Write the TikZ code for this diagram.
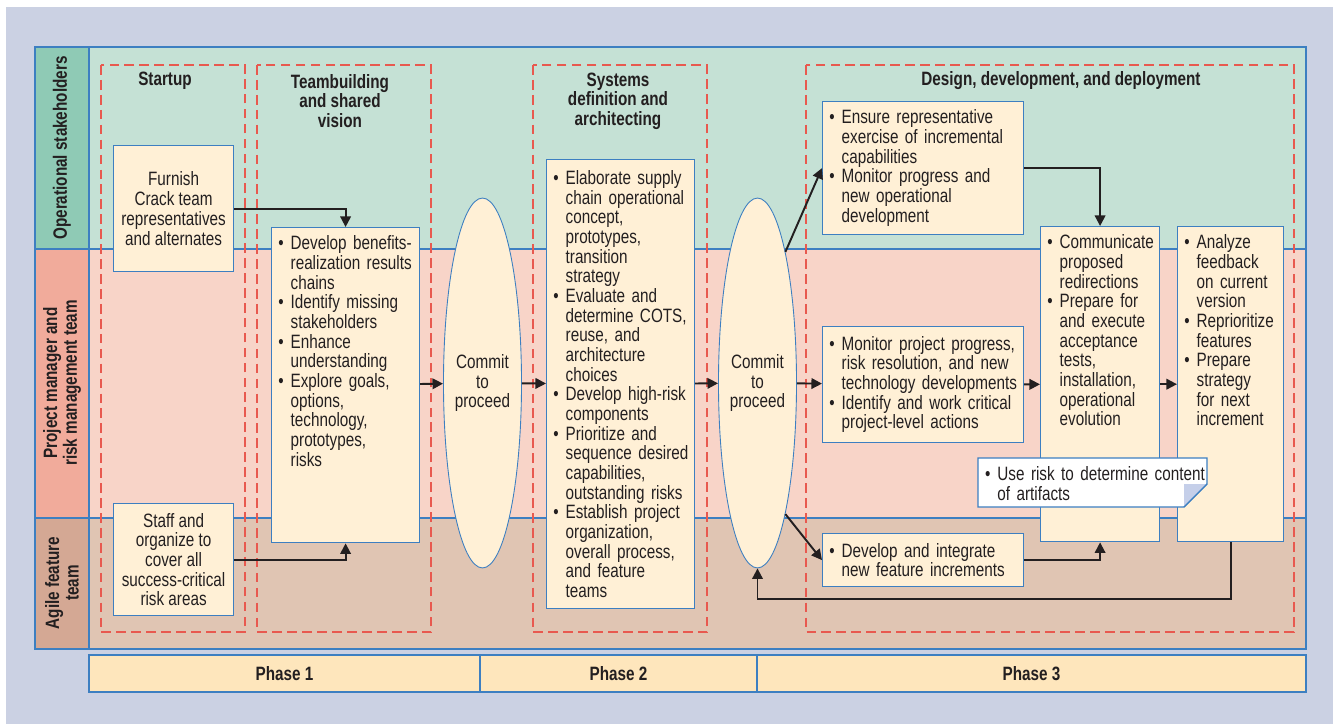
\documentclass[tikz,border=0pt]{standalone}
\usepackage{fontspec}
\setmainfont[FakeStretch=0.79]{Liberation Sans}
\usetikzlibrary{arrows.meta,shapes.geometric}

\definecolor{bgfill}{HTML}{CBD1E3}
\definecolor{bglight}{HTML}{EAECF4}
\definecolor{opslabel}{HTML}{8FCAB5}
\definecolor{opsfill}{HTML}{C5E1D5}
\definecolor{pmlabel}{HTML}{F1AB9B}
\definecolor{pmfill}{HTML}{F8D4C8}
\definecolor{aglabel}{HTML}{D4A894}
\definecolor{agfill}{HTML}{E0C5B3}
\definecolor{cream}{HTML}{FFF0D6}
\definecolor{phasefill}{HTML}{FEE6BC}
\definecolor{lineblue}{HTML}{3D7FC1}
\definecolor{dashred}{HTML}{E8594F}
\definecolor{foldblue}{HTML}{C5CFE9}
\definecolor{ink}{HTML}{231F20}

% bullet item, lines split by \\
\newcommand{\blt}[1]{{\let\\\newline\noindent\hangindent=8pt\hangafter=1
  \makebox[8pt][l]{\hspace{1pt}\textbullet}#1\par}}

\tikzset{
  txt/.style={text=ink, font=\fontsize{11}{11.2}\selectfont},
  title/.style={txt, font=\fontsize{11}{11.2}\selectfont\bfseries, align=center},
  lanelabel/.style={title, rotate=90},
  box/.style={txt, draw=lineblue, fill=cream, line width=0.7pt},
  listbox/.style={box, anchor=north west, align=left, inner xsep=2.85pt, inner ysep=4.7pt},
  gate/.style={box, ellipse, line width=0.5pt, align=center, inner sep=0pt,
    minimum width=1.5cm, minimum height=7.4cm},
  phasebox/.style={title, draw=lineblue, fill=phasefill, line width=0.7pt, minimum height=0.74cm},
  frame/.style={dashred, line width=0.9pt, dash pattern=on 5.5pt off 3pt},
  arr/.style={ink, line width=1.1pt, -{Triangle[length=6pt,width=6pt]}}
}

\begin{document}
\begin{tikzpicture}[x=0.02cm, y=-0.02cm]
    \useasboundingbox (0,0) rectangle (1333,724);

    % Background
    \fill[white] (0,0) rectangle (1333,724);
    \shade[left color=bgfill, middle color=bglight, right color=bgfill] (6,7) rectangle (1333,724);

    % Swim lanes
    \filldraw[fill=opslabel, draw=lineblue, line width=0.7pt] (35,47) rectangle (89,249);
    \filldraw[fill=opsfill, draw=lineblue, line width=0.7pt] (89,47) rectangle (1306,249);
    \filldraw[fill=pmlabel, draw=lineblue, line width=0.7pt] (35,249) rectangle (89,518);
    \filldraw[fill=pmfill, draw=lineblue, line width=0.7pt] (89,249) rectangle (1306,518);
    \filldraw[fill=aglabel, draw=lineblue, line width=0.7pt] (35,518) rectangle (89,649);
    \filldraw[fill=agfill, draw=lineblue, line width=0.7pt] (89,518) rectangle (1306,649);

    \node[lanelabel] (ops) at (62,148) {Operational stakeholders};
    \node[lanelabel] (pm) at (62,383) {Project manager and\\risk management team};
    \node[lanelabel] (agile) at (62,583) {Agile feature\\team};

    % Activity frames
    \draw[frame] (101,65) rectangle (245,632);
    \draw[frame] (257,65) rectangle (431,632);
    \draw[frame] (533,65) rectangle (707,632);
    \draw[frame] (806,65) rectangle (1294,632);

    \node[title] (startup) at (165,81) {Startup};
    \node[title] (teamtitle) at (340,101) {Teambuilding\\and shared\\vision};
    \node[title] (systitle) at (618,101) {Systems\\definition and\\architecting};
    \node[title] (designtitle) at (1061,81) {Design, development, and deployment};

    % Startup
    \node[box, align=center, anchor=north west, minimum width=2.4cm, minimum height=2.52cm] (furnish) at (113,145)
        {Furnish\\Crack team\\representatives\\and alternates};
    \node[box, align=center, anchor=north west, minimum width=2.4cm, minimum height=2.24cm] (staff) at (113,503)
        {Staff and\\organize to\\cover all\\success-critical\\risk areas};

    % Teambuilding
    \node[listbox, text width=78.5pt, text depth=162pt] (team) at (271,227) {%
        \blt{Develop benefits-\\realization results\\chains}
        \blt{Identify missing\\stakeholders}
        \blt{Enhance\\understanding}
        \blt{Explore goals,\\options,\\technology,\\prototypes,\\risks}};

    % Commitment gates
    \node[gate] (gate1) at (482.5,383) {Commit\\to\\proceed};
    \node[gate] (gate2) at (757.5,383) {Commit\\to\\proceed};

    % Systems definition
    \node[listbox, text width=78.5pt, minimum height=8.98cm] (sys) at (546,159) {%
        \blt{Elaborate supply\\chain operational\\concept,\\prototypes,\\transition\\strategy}
        \blt{Evaluate and\\determine COTS,\\reuse, and\\architecture\\choices}
        \blt{Develop high-risk\\components}
        \blt{Prioritize and\\sequence desired\\capabilities,\\outstanding risks}
        \blt{Establish project\\organization,\\overall process,\\and feature\\teams}};

    % Design, development, and deployment
    \node[listbox, text width=108.7pt, minimum height=2.66cm] (ensure) at (822,101) {%
        \blt{Ensure representative\\exercise of incremental\\capabilities}
        \blt{Monitor progress and\\new operational\\development}};
    \node[listbox, text width=108.7pt, minimum height=2.32cm] (monitor) at (822,326) {%
        \blt{Monitor project progress,\\risk resolution, and new\\technology developments}
        \blt{Identify and work critical\\project-level actions}};
    \node[listbox, text width=108.7pt, minimum height=1.06cm] (develop) at (822,533) {%
        \blt{Develop and integrate\\new feature increments}};
    \node[listbox, text width=62pt, text depth=162pt] (comm) at (1040,226) {%
        \blt{Communicate\\proposed\\redirections}
        \blt{Prepare for\\and execute\\acceptance\\tests,\\installation,\\operational\\evolution}};
    \node[listbox, text width=54.6pt, text depth=162pt] (analyze) at (1177,226) {%
        \blt{Analyze\\feedback\\on current\\version}
        \blt{Reprioritize\\features}
        \blt{Prepare\\strategy\\for next\\increment}};

    % Note with folded corner
    \filldraw[fill=white, draw=lineblue, line width=0.7pt]
        (978,458) -- (1207,458) -- (1207,484) -- (1184,507) -- (978,507) -- cycle;
    \fill[foldblue] (1184,484) -- (1207,484) -- (1184,507) -- cycle;
    \draw[lineblue, line width=0.7pt] (1207,484) -- (1184,507);
    \node[txt, anchor=north west, align=left, inner xsep=2.85pt, inner ysep=4.7pt, text width=140pt,
        minimum height=0.98cm] (note) at (978,458) {%
        \blt{Use risk to determine content\\of artifacts}};

    % Connectors
    \draw[arr] (furnish.east) -| (team.north);
    \draw[arr] (staff.east) -| (team.south);
    \draw[arr] (team) -- (gate1);
    \draw[arr] (gate1) -- (sys);
    \draw[arr] (sys) -- (gate2);
    \draw[arr] (gate2) -- (monitor);
    \draw[arr] (monitor) -- (comm);
    \draw[arr] (comm) -- (analyze);
    \draw[arr] (gate2.north east) -- (ensure.west);
    \draw[arr] (gate2.south east) -- (develop.west);
    \draw[arr] (ensure.east) -| (comm.north);
    \draw[arr] (develop.east) -| (comm.south);
    \draw[arr] (analyze.south) -- ++(0,57) -| (gate2.south);

    % Phases
    \node[phasebox, minimum width=7.82cm] (phase1) at (284.5,673.5) {Phase 1};
    \node[phasebox, minimum width=5.54cm] (phase2) at (618.5,673.5) {Phase 2};
    \node[phasebox, minimum width=10.98cm] (phase3) at (1031.5,673.5) {Phase 3};

\end{tikzpicture}
\end{document}
